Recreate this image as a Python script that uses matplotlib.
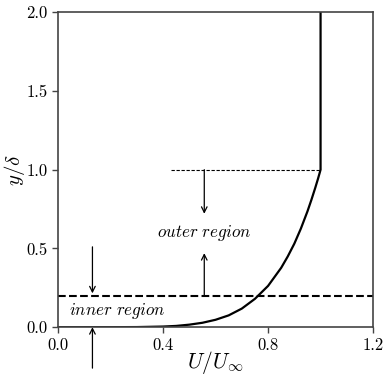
import matplotlib
matplotlib.use('Agg')
import matplotlib.pyplot as plt

# Velocity profile (U/U_inf, y/delta).
u_profile = [0.0, 0.2, 0.3, 0.4, 0.45, 0.5, 0.55, 0.6, 0.65, 0.7, 0.75,
             0.8, 0.85, 0.875, 0.9, 0.925, 0.95, 0.965, 0.98, 0.99, 0.996,
             1.0, 1.0]
y_profile = [0.0, 0.0001, 0.0007, 0.004, 0.008, 0.016, 0.028, 0.047, 0.075,
             0.118, 0.18, 0.262, 0.377, 0.449, 0.53, 0.626, 0.735, 0.808,
             0.886, 0.941, 0.976, 1.0, 2.0]

# Region boundaries and annotation positions
inner_edge = 0.2
outer_edge = 1.0
outer_line_start = 0.43
x_ticks = [0.0, 0.4, 0.8, 1.2]
y_ticks = [0.0, 0.5, 1.0, 1.5, 2.0]

plt.rcParams['font.family'] = 'serif'
plt.rcParams['font.serif'] = ['cmr10', 'DejaVu Serif']
plt.rcParams['mathtext.fontset'] = 'cm'
plt.rcParams['axes.formatter.use_mathtext'] = True

fig = plt.figure(figsize=(3.87, 3.8), dpi=100)
ax = fig.add_axes([0.150, 0.139, 0.814, 0.829])

ax.plot(u_profile, y_profile, color='black', lw=1.6)
ax.axhline(inner_edge, color='black', ls='--', lw=1.5)
ax.plot([outer_line_start, 1.0], [outer_edge, outer_edge], color='black',
        ls=(0, (3, 1.5)), lw=0.8)

arrow = dict(arrowstyle='->', color='black', lw=0.9, shrinkA=0, shrinkB=0)
ax.annotate('', xy=(0.557, 0.72), xytext=(0.557, outer_edge), arrowprops=arrow)
ax.annotate('', xy=(0.557, 0.47), xytext=(0.557, inner_edge), arrowprops=arrow)
ax.annotate('', xy=(0.131, 0.215), xytext=(0.131, 0.51), arrowprops=arrow)
ax.annotate('', xy=(0.131, 0.0), xytext=(0.131, -0.26), arrowprops=arrow,
            annotation_clip=False)

ax.text(0.557, 0.6, r'$\mathit{outer\ region}$', ha='center', va='center',
        fontsize=12.3)
ax.text(0.04, 0.1, r'$\mathit{inner\ region}$', ha='left', va='center',
        fontsize=12.3)

ax.set_xlim(0, 1.2)
ax.set_ylim(0, 2.0)
ax.set_xticks(x_ticks)
ax.set_yticks(y_ticks)
ax.set_xticklabels(['0.0', '0.4', '0.8', '1.2'])
ax.set_yticklabels(['0.0', '0.5', '1.0', '1.5', '2.0'])
ax.tick_params(labelsize=12, direction='out', length=4, width=1.0, color='#444444')
for s in ax.spines.values():
    s.set_color('#444444')
    s.set_linewidth(1.2)

ax.set_xlabel(r'$U/U_\infty$', fontsize=15.5)
ax.set_ylabel(r'$y/\delta$', fontsize=15)
ax.xaxis.set_label_coords(0.5, -0.07)
ax.yaxis.set_label_coords(-0.1, 0.5)

fig.savefig('out.png', dpi=100)
